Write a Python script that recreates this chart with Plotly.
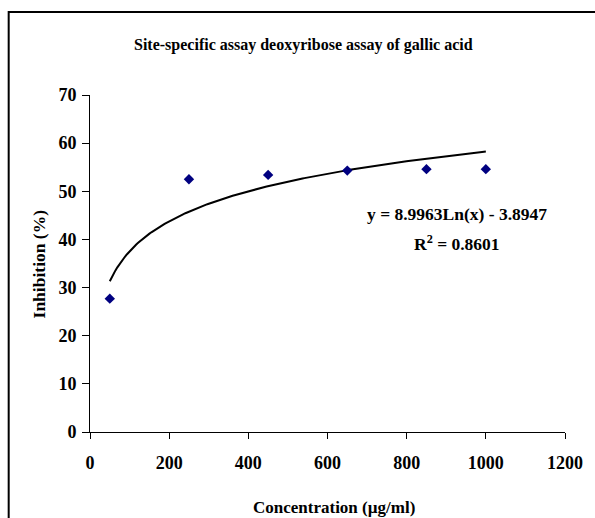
import numpy as np
import plotly.graph_objects as go

# Data
concentration = [50, 250, 450, 650, 850, 1000]
inhibition = [27.7, 52.5, 53.4, 54.3, 54.6, 54.6]
fit_a = 8.9963
fit_b = -3.8947
r_squared = 0.8601
x_ticks = [0, 200, 400, 600, 800, 1000, 1200]
y_ticks = [0, 10, 20, 30, 40, 50, 60, 70]

font_family = "Liberation Serif"

fit_x = np.linspace(min(concentration), max(concentration), 200)
fit_y = fit_a * np.log(fit_x) + fit_b

fig = go.Figure()
fig.add_trace(go.Scatter(x=fit_x, y=fit_y, mode="lines",
                         line=dict(color="black", width=2), showlegend=False,
                         hoverinfo="skip"))
fig.add_trace(go.Scatter(x=concentration, y=inhibition, mode="markers",
                         marker=dict(symbol="diamond", size=8, color="#000080"),
                         showlegend=False))

axis_common = dict(showgrid=False, zeroline=False, showline=True, linecolor="black",
                   linewidth=1, ticks="outside", tickcolor="black",
                   tickfont=dict(family=font_family, size=18, color="black", weight="bold"))

fig.update_xaxes(range=[0, 1200], tickvals=x_ticks, ticklen=6, ticklabelstandoff=8,
                 **axis_common)
fig.update_yaxes(range=[0, 70], tickvals=y_ticks, ticklen=7, ticklabelstandoff=2,
                 **axis_common)

L, R, T, B = 90, 569, 95, 432
fig.update_layout(
    width=595, height=518,
    margin=dict(l=L, r=595 - R, t=T, b=518 - B),
    paper_bgcolor="white", plot_bgcolor="white",
    font=dict(family=font_family, color="black"),
)

W, H = R - L, B - T
def px(x):
    return (x - L) / W
def py(y):
    return (B - y) / H

fig.add_shape(type="rect", xref="paper", yref="paper",
              x0=px(8), x1=px(610), y0=py(530), y1=py(12),
              line=dict(color="black", width=2), layer="below")

def note(text, x, y, size, angle=0):
    fig.add_annotation(text=text, xref="paper", yref="paper", x=px(x), y=py(y),
                       xanchor="center", yanchor="middle", textangle=angle,
                       showarrow=False, font=dict(size=size, family=font_family))

note("<b>Site-specific assay deoxyribose assay of gallic acid</b>", 305, 45, 16)
note("<b>Concentration (µg/ml)</b>", 336, 507, 17)
note("<b>Inhibition (%)</b>", 39, 264, 17.5, -90)
note(f"<b>y = {fit_a}Ln(x) - {abs(fit_b)}</b>", 460, 214, 17.5)
note(f"<b>R<sup>2</sup> = {r_squared}</b>", 460, 243, 17.5)

fig.write_html("out.html")
